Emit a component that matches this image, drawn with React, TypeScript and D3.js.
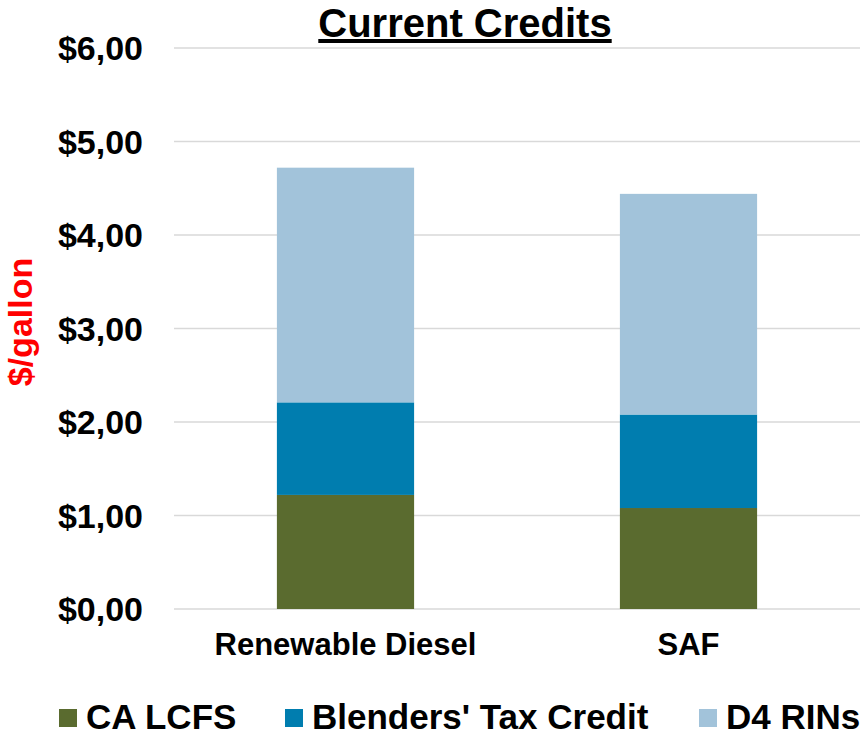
import React from 'react';
import * as d3 from 'd3';

const categories = ['Renewable Diesel', 'SAF'];
const seriesNames = ['CA LCFS', "Blenders' Tax Credit", 'D4 RINs'];
const caLcfs = [1.22, 1.08];
const blendersCredit = [0.99, 1.0];
const d4Rins = [2.51, 2.36];
const yTicks = [0, 1, 2, 3, 4, 5, 6];

const colors = ['#5a6b2f', '#007daf', '#a2c3da'];
const font = '"Liberation Sans", Arial, sans-serif';

export default function App() {
  const width = 860;
  const height = 738;

  const y = d3.scaleLinear().domain([0, 6]).range([609, 48]);
  const x = d3.scaleBand().domain(categories).range([174, 860])
    .paddingInner(0.6).paddingOuter(0.3);

  const rows = categories.map((c, i) => ({
    cat: c,
    'CA LCFS': caLcfs[i],
    "Blenders' Tax Credit": blendersCredit[i],
    'D4 RINs': d4Rins[i]
  }));
  const stacked = d3.stack().keys(seriesNames)(rows as any);

  const fmt = (v) => '$' + d3.format('.2f')(v).replace('.', ',');

  // legend layout (x positions of the swatches)
  const legendX = [59, 285, 699];

  return (
    <svg width={width} height={height}
      style={{ position: 'absolute', left: 0, top: 0, background: '#fff' }}
      fontFamily={font} fontWeight="bold">
      <text x={465} y={37} textAnchor="middle" fontSize={40}
        style={{ textDecoration: 'underline' }}>Current Credits</text>

      {yTicks.map(t => (
        <g key={t}>
          <line x1={174} x2={860} y1={y(t)} y2={y(t)} stroke="#d9d9d9" strokeWidth={1.5} />
          <text x={143} y={y(t)} dy="0.36em" textAnchor="end" fontSize={34}>{fmt(t)}</text>
        </g>
      ))}

      <text transform={`translate(32,322) rotate(-90)`} textAnchor="middle"
        fontSize={34} fill="#ff0000">$/gallon</text>

      {stacked.map((s, si) => (
        <g key={s.key} fill={colors[si]}>
          {s.map((d, i) => (
            <rect key={i} x={x(categories[i])} width={x.bandwidth()}
              y={y(d[1])} height={y(d[0]) - y(d[1])} />
          ))}
        </g>
      ))}

      {categories.map(c => (
        <text key={c} x={x(c) + x.bandwidth() / 2} y={655} textAnchor="middle"
          fontSize={31}>{c}</text>
      ))}

      {seriesNames.map((n, i) => (
        <g key={n}>
          <rect x={legendX[i]} y={709} width={18} height={18} fill={colors[i]} />
          <text x={legendX[i] + 27} y={729} fontSize={35}>{n}</text>
        </g>
      ))}
    </svg>
  );
}
